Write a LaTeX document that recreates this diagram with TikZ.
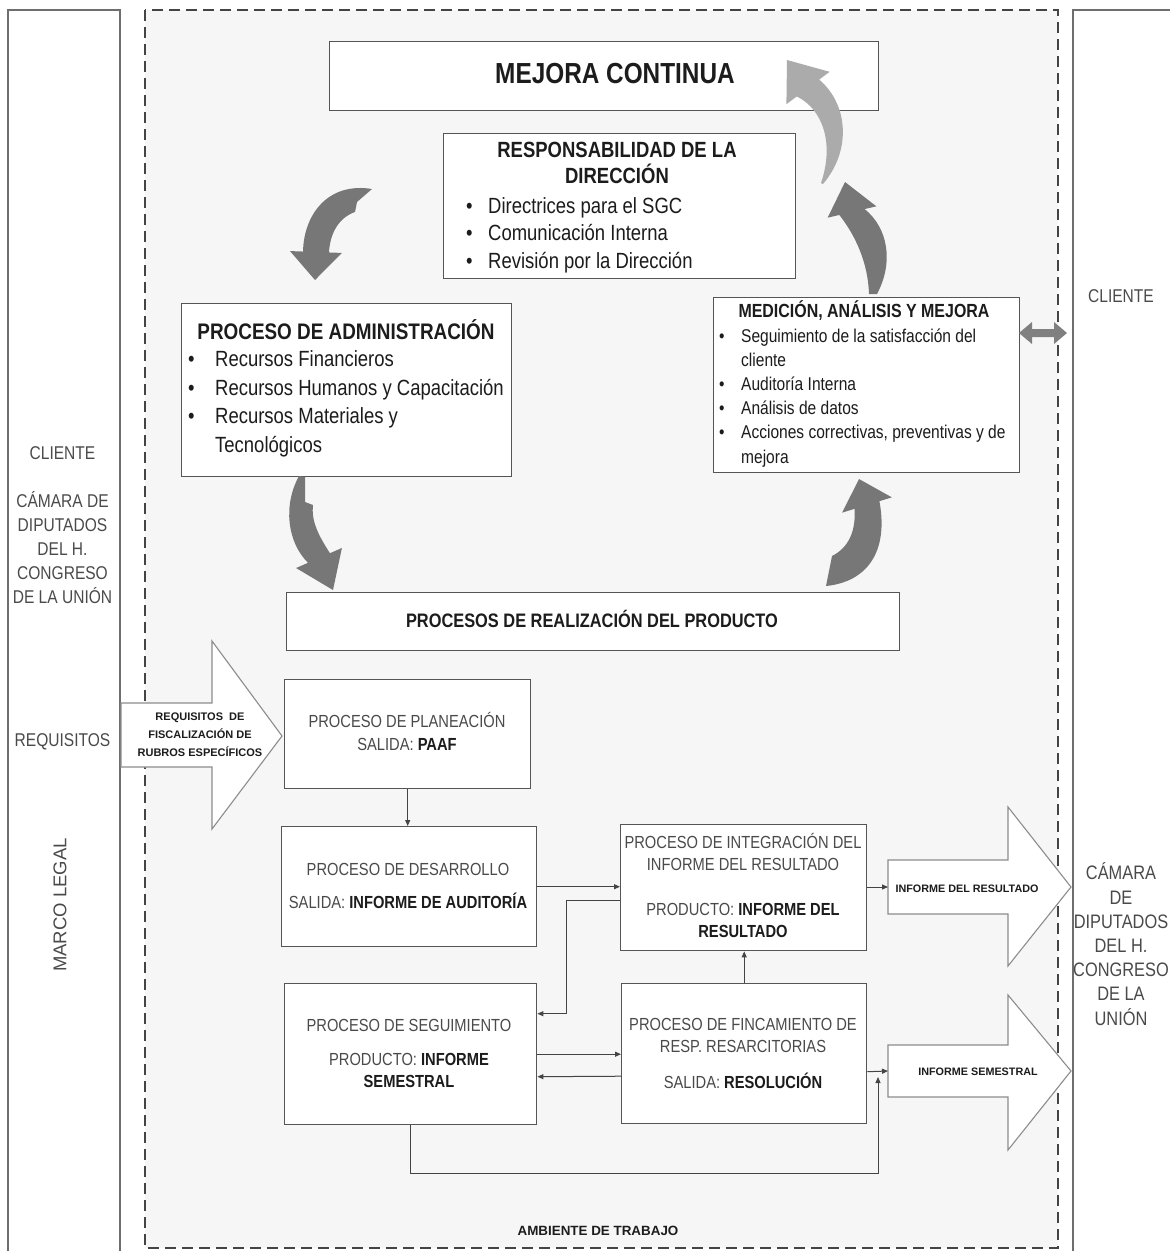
\documentclass[tikz,border=0pt]{standalone}
\usepackage{fontspec}
\setmainfont{Liberation Sans}[FakeStretch=0.84]
\newfontfamily\plainsans{Liberation Sans}
\usetikzlibrary{calc,arrows.meta}

\definecolor{frameline}{HTML}{6E6E6E}
\definecolor{boxline}{HTML}{555555}
\definecolor{dashline}{HTML}{444444}
\definecolor{inkdark}{HTML}{1C1C1C}
\definecolor{inkgray}{HTML}{4A4A4A}
\definecolor{darkarrow}{HTML}{777777}
\definecolor{lightarrow}{HTML}{ABABAB}
\definecolor{midarrow}{HTML}{808080}
\definecolor{blockline}{HTML}{8C8C8C}
\definecolor{areafill}{HTML}{F6F6F6}

\tikzset{
  panel/.style={draw=boxline, line width=1.4pt, fill=white, inner sep=0pt,
    anchor=north west, minimum width=#1},
  txt/.style={inner sep=0pt, anchor=base, text=inkdark},
  grey/.style={inner sep=0pt, anchor=base, text=inkgray},
  listtxt/.style={inner sep=0pt, anchor=base west, align=left, text=inkdark},
  flow/.style={draw=dashline, line width=1pt, -{Triangle[length=6pt,width=5pt]}},
  blockarrow/.style={draw=blockline, line width=1.1pt, fill=white, line join=miter},
  colframe/.style={draw=frameline, line width=1.4pt}
}

\newcommand{\fs}[2]{\fontsize{#1}{#2}\selectfont}
\newcommand{\bul}[1]{\makebox[#1][l]{\textbullet}}

\begin{document}
\begin{tikzpicture}[x=1pt,y=-1pt]
\useasboundingbox (0,0) rectangle (1170,1251);
\fill[white] (0,0) rectangle (1170,1251);

% outer columns
\draw[colframe] (8,10) rectangle (120,1262);
\draw[colframe] (1073,10) rectangle (1185,1262);

% working area
\fill[areafill] (145,10) rectangle (1058,1248);
\draw[dashline, line width=1.5pt, dash pattern=on 11pt off 6pt] (145,10) rectangle (1058,1248);

% ---------------- upper cycle ----------------
% multi-line nodes below are anchored on the baseline of their last line
\node[panel=549pt, minimum height=69pt] (mejora) at (329,41) {};
\node[txt, font=\fs{29}{34}\bfseries] (mejoratxt) at (615,83.5) {MEJORA CONTINUA};

\node[panel=352pt, minimum height=145pt] (resp) at (443,133) {};
\node[txt, font=\fs{22}{26}\bfseries] (resptitle) at (617,157) {RESPONSABILIDAD DE LA};
\node[txt, font=\fs{22}{26}\bfseries] (resptitleb) at (617,183) {DIRECCIÓN};
\node[listtxt, font=\fs{22}{27.5}] (resplist) at (466,268)
  {\bul{22pt}Directrices para el SGC\\
   \bul{22pt}Comunicación Interna\\
   \bul{22pt}Revisión por la Dirección};

\node[panel=330pt, minimum height=173pt] (adm) at (181,303) {};
\node[txt, font=\fs{22.5}{26}\bfseries] (admtitle) at (346,339) {PROCESO DE ADMINISTRACIÓN};
\node[listtxt, font=\fs{22}{28.4}] (admlist) at (188,452)
  {\bul{27pt}Recursos Financieros\\
   \bul{27pt}Recursos Humanos y Capacitación\\
   \bul{27pt}Recursos Materiales y\\
   \hspace*{27pt}Tecnológicos};

\node[panel=306pt, minimum height=175pt] (med) at (713,297) {};
\node[txt, font=\fs{19}{22}\bfseries] (medtitle) at (864,317) {MEDICIÓN, ANÁLISIS Y MEJORA};
\node[listtxt, font=\fs{18.5}{24.2}] (medlist) at (719,463)
  {\bul{22pt}Seguimiento de la satisfacción del\\
   \hspace*{22pt}cliente\\
   \bul{22pt}Auditoría Interna\\
   \bul{22pt}Análisis de datos\\
   \bul{22pt}Acciones correctivas, preventivas y de\\
   \hspace*{22pt}mejora};

\node[panel=613pt, minimum height=58pt] (real) at (286,592) {};
\node[txt, font=\fs{19.5}{23}\bfseries] (realtxt) at (592,627) {PROCESOS DE REALIZACIÓN DEL PRODUCTO};

% curved block arrows of the cycle
\fill[darkarrow] (372,189) .. controls (330,182) and (304,212) .. ($(316,252)!13pt!-90:(315,280)$)
  -- ($(316,252)!26pt!-90:(315,280)$) -- (315,280) -- ($(316,252)!26pt!90:(315,280)$)
  -- ($(316,252)!13pt!90:(315,280)$) .. controls (330,232) and (340,217) .. (355,212)
  -- (357,202) -- cycle;

\fill[darkarrow] (299,476) .. controls (283,505) and (287,542) .. ($(319,558)!12pt!-90:(333,590)$)
  -- ($(319,558)!25pt!-90:(333,590)$) -- (333,590) -- ($(319,558)!25pt!90:(333,590)$)
  -- ($(319,558)!12pt!90:(333,590)$) .. controls (318,535) and (311,520) .. (313,505)
  -- (305,502) -- (305,477) -- cycle;

\fill[darkarrow] (826,586) .. controls (866,582) and (889,553) .. ($(867,505)!13pt!-90:(859,479)$)
  -- ($(867,505)!26pt!-90:(859,479)$) -- (859,479) -- ($(867,505)!26pt!90:(859,479)$)
  -- ($(867,505)!13pt!90:(859,479)$) .. controls (856,532) and (848,548) .. (832,556) -- cycle;

\fill[darkarrow] (877,294) .. controls (894,262) and (888,228) .. ($(852,212)!13pt!-90:(845,182)$)
  -- ($(852,212)!25pt!-90:(845,182)$) -- (845,182) -- ($(852,212)!25pt!90:(845,182)$)
  -- ($(852,212)!13pt!90:(845,182)$) .. controls (855,235) and (868,262) .. (869,294) -- cycle;

\fill[lightarrow] (823,184) .. controls (852,150) and (848,104) .. ($(808,88)!14pt!-90:(787,60)$)
  -- ($(808,88)!27pt!-90:(787,60)$) -- (787,60) -- ($(808,88)!27pt!90:(787,60)$)
  -- ($(808,88)!14pt!90:(787,60)$) .. controls (824,110) and (834,145) .. (821,183) -- cycle;

% two-way link between the measuring box and the client
\fill[midarrow] (1019,333) -- (1032,322) -- (1032,329) -- (1054,329) -- (1054,322) -- (1067,333)
  -- (1054,344) -- (1054,337) -- (1032,337) -- (1032,344) -- cycle;

% ---------------- product realisation ----------------
\draw[blockarrow] (121,703) -- (212,703) -- (212,641) -- (282,736) -- (212,829) -- (212,767) -- (121,767) -- cycle;
\node[inner sep=0pt, anchor=base, align=center, font=\plainsans\fs{11}{18}\bfseries, text=inkdark] (reqtxt) at (200,756)
  {REQUISITOS \ DE\\ FISCALIZACIÓN DE\\ RUBROS ESPECÍFICOS};

\node[panel=246pt, minimum height=109pt] (plan) at (284,679) {};
\node[grey, font=\fs{17.5}{21}] (plana) at (407,727) {PROCESO DE PLANEACIÓN};
\node[grey, font=\fs{17.5}{21}] (planb) at (407,750) {SALIDA: \textbf{\color{inkdark}PAAF}};

\node[panel=255pt, minimum height=120pt] (des) at (281,826) {};
\node[grey, font=\fs{17.5}{21}] (desa) at (408,875) {PROCESO DE DESARROLLO};
\node[grey, font=\fs{17.5}{21}] (desb) at (408,908) {SALIDA: \textbf{\color{inkdark}INFORME DE AUDITORÍA}};

\node[panel=246pt, minimum height=126pt] (int) at (620,824) {};
\node[grey, font=\fs{17.5}{21}] (inta) at (743,848) {PROCESO DE INTEGRACIÓN DEL};
\node[grey, font=\fs{17.5}{21}] (intb) at (743,870) {INFORME DEL RESULTADO};
\node[grey, font=\fs{17.5}{21}] (intc) at (743,915) {PRODUCTO: \textbf{\color{inkdark}INFORME DEL}};
\node[txt, font=\fs{17.5}{21}\bfseries] (intd) at (743,937) {RESULTADO};

\node[panel=252pt, minimum height=141pt] (seg) at (284,983) {};
\node[grey, font=\fs{17.5}{21}] (sega) at (409,1031) {PROCESO DE SEGUIMIENTO};
\node[grey, font=\fs{17.5}{21}] (segb) at (409,1065) {PRODUCTO: \textbf{\color{inkdark}INFORME}};
\node[txt, font=\fs{17.5}{21}\bfseries] (segc) at (409,1087) {SEMESTRAL};

\node[panel=245pt, minimum height=140pt] (fin) at (621,983) {};
\node[grey, font=\fs{17.5}{21}] (fina) at (743,1030) {PROCESO DE FINCAMIENTO DE};
\node[grey, font=\fs{17.5}{21}] (finb) at (743,1052) {RESP. RESARCITORIAS};
\node[grey, font=\fs{17.5}{21}] (finc) at (743,1088) {SALIDA: \textbf{\color{inkdark}RESOLUCIÓN}};

% output block arrows
\draw[blockarrow] (888,860) -- (1008,860) -- (1008,807) -- (1071,887) -- (1008,966) -- (1008,914) -- (888,914) -- cycle;
\node[inner sep=0pt, anchor=base, font=\plainsans\fs{10.8}{13}\bfseries, text=inkdark] (restxt) at (967,892) {INFORME DEL RESULTADO};
\coordinate (resin) at (888,887);

\draw[blockarrow] (888,1045) -- (1008,1045) -- (1008,995) -- (1071,1071) -- (1008,1150) -- (1008,1097) -- (888,1097) -- cycle;
\node[inner sep=0pt, anchor=base, font=\plainsans\fs{10.8}{13}\bfseries, text=inkdark] (semtxt) at (978,1075) {INFORME SEMESTRAL};
\coordinate (semin) at (888,1071);
\coordinate (semjoin) at (878,1077);

% process connectors
\draw[flow] (plan.south) -- (plan.south |- des.north);
\draw[flow] (des.east) -- (des.east -| int.west);
\draw[flow] ([yshift=-13pt]int.west) -- ++(-54,0) |- ([yshift=40.5pt]seg.east);
\draw[flow] (seg.east) -- (seg.east -| fin.west);
\draw[flow] ([yshift=-22.5pt]fin.west) -- ([yshift=-22.5pt]seg.east);
\draw[flow] (fin.north) -- (fin.north |- int.south);
\draw[flow] (int.east |- resin) -- (resin);
\draw[flow] ([yshift=-18pt]fin.east) -- (semin);
\draw[flow] (seg.south) -- ++(0,48) -| (semjoin);

\node[inner sep=0pt, anchor=base, font=\plainsans\fs{13.4}{16}\bfseries, text=inkdark] (ambiente) at (598,1235) {AMBIENTE DE TRABAJO};

% ---------------- side columns ----------------
\node[txt, font=\fs{18.5}{22}, text=inkgray] (lcliente) at (62.5,459) {CLIENTE};
\node[inner sep=0pt, anchor=base, align=center, font=\fs{18.5}{23.8}, text=inkgray] (lcamara) at (62.5,603)
  {CÁMARA DE\\ DIPUTADOS\\ DEL H.\\ CONGRESO\\ DE LA UNIÓN};
\node[txt, font=\fs{18.5}{22}, text=inkgray] (lreq) at (62.5,746) {REQUISITOS};
\node[inner sep=0pt, rotate=90, font=\plainsans\fs{18.5}{22}, text=inkgray] (lmarco) at (60,905) {MARCO LEGAL};

\node[txt, font=\fs{18.5}{22}, text=inkgray] (rcliente) at (1121,302) {CLIENTE};
\node[inner sep=0pt, anchor=base, align=center, font=\fs{19.5}{24.2}, text=inkgray] (rcamara) at (1121,1025)
  {CÁMARA\\ DE\\ DIPUTADOS\\ DEL H.\\ CONGRESO\\ DE LA\\ UNIÓN};

\end{tikzpicture}
\end{document}
